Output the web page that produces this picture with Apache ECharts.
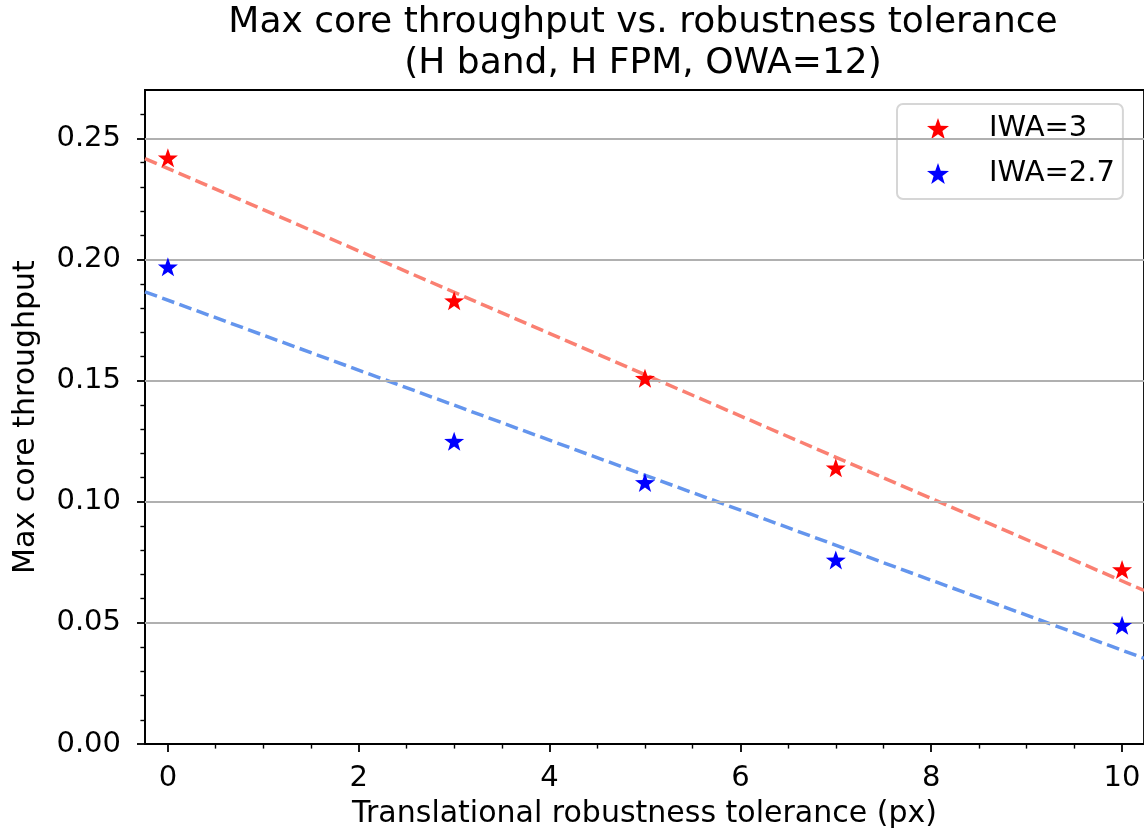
<!DOCTYPE html>
<html>
<head>
    <meta charset="utf-8">
    <title>Max core throughput</title>
    <script src="https://cdn.jsdelivr.net/npm/echarts@6/dist/echarts.min.js"></script>
    <style>
        html, body { margin: 0; padding: 0; background: #fff; }
    </style>
</head>
<body>
<div id="main" style="width: 1144px;height:835px;"></div>
<script type="text/javascript">
    // data
    var tolerance = [0, 3, 5, 7, 10];
    var iwa3 = [0.242, 0.183, 0.151, 0.114, 0.072];
    var iwa27 = [0.197, 0.125, 0.108, 0.076, 0.049];
    // dashed fit lines, end points at the axis limits
    var fitX = [-0.24, 10.23];
    var fitIwa3 = [0.2417, 0.0634];
    var fitIwa27 = [0.1867, 0.0354];

    var xMajor = [0, 2, 4, 6, 8, 10];
    var xMinor = [0.5, 1, 1.5, 2.5, 3, 3.5, 4.5, 5, 5.5, 6.5, 7, 7.5, 8.5, 9, 9.5];
    var yMajor = [0, 0.05, 0.10, 0.15, 0.20, 0.25];
    var yMinor = [0.01, 0.02, 0.03, 0.04, 0.06, 0.07, 0.08, 0.09, 0.11, 0.12, 0.13, 0.14,
                  0.16, 0.17, 0.18, 0.19, 0.21, 0.22, 0.23, 0.24, 0.26];

    var star = 'path://M0,-10 L2.35,-3.24 L9.51,-3.09 L3.8,1.24 L5.88,8.09 L0,4 L-5.88,8.09 L-3.8,1.24 L-9.51,-3.09 L-2.35,-3.24 Z';
    var font = 'DejaVu Sans';

    function pairs(xs, ys) {
        return xs.map(function (x, i) { return [x, ys[i]]; });
    }

    var myChart = echarts.init(document.getElementById('main'));

    var option = {
        animation: false,
        backgroundColor: '#fff',
        title: {
            text: 'Max core throughput vs. robustness tolerance\n(H band, H FPM, OWA=12)',
            left: 638,
            top: -3,
            textAlign: 'center',
            textStyle: { fontFamily: font, fontSize: 36, fontWeight: 'normal', color: '#000', lineHeight: 41 }
        },
        legend: {
            data: ['IWA=3', 'IWA=2.7'],
            orient: 'vertical',
            left: 897,
            top: 104,
            padding: [9, 8, 10, 30],
            itemWidth: 22,
            itemHeight: 22,
            itemGap: 14,
            borderColor: '#d6d6d6',
            borderWidth: 2,
            borderRadius: 6,
            backgroundColor: 'rgba(255,255,255,0.8)',
            textStyle: { fontFamily: font, fontSize: 29, color: '#000', lineHeight: 31, padding: [0, 0, 0, 35] }
        },
        // right edge of the axes box sits just past the picture edge
        grid: { left: 145, width: 1002, top: 90, bottom: 91, show: true, borderColor: '#000', borderWidth: 1.8 },
        xAxis: [{
            type: 'value',
            min: -0.24,
            max: 10.23,
            name: 'Translational robustness tolerance (px)',
            nameLocation: 'middle',
            nameGap: 55,
            nameTextStyle: { fontFamily: font, fontSize: 30, color: '#000' },
            axisLine: { show: true, onZero: false, lineStyle: { color: '#000', width: 1.8 } },
            axisTick: { show: true, customValues: xMajor, length: 8, lineStyle: { color: '#000', width: 1.8 } },
            axisLabel: { customValues: xMajor, margin: 20, fontFamily: font, fontSize: 29, color: '#000' },
            splitLine: { show: false }
        }, {
            type: 'value',
            position: 'bottom',
            min: -0.24,
            max: 10.23,
            axisLine: { show: false, onZero: false },
            axisTick: { show: true, customValues: xMinor, length: 4.6, lineStyle: { color: '#000', width: 1.4 } },
            axisLabel: { show: false },
            splitLine: { show: false }
        }],
        yAxis: [{
            type: 'value',
            min: 0,
            max: 0.27,
            name: 'Max core throughput',
            nameLocation: 'middle',
            nameGap: 104,
            nameTextStyle: { fontFamily: font, fontSize: 30, color: '#000' },
            axisLine: { show: true, onZero: false, lineStyle: { color: '#000', width: 1.8 } },
            axisTick: { show: true, customValues: yMajor, length: 8, lineStyle: { color: '#000', width: 1.8 } },
            axisLabel: {
                customValues: yMajor, margin: 24, fontFamily: font, fontSize: 29, color: '#000',
                formatter: function (v) { return v.toFixed(2); }
            },
            splitLine: { show: false }
        }, {
            type: 'value',
            position: 'left',
            min: 0,
            max: 0.27,
            axisLine: { show: false, onZero: false },
            axisTick: { show: true, customValues: yMinor, length: 4.6, lineStyle: { color: '#000', width: 1.4 } },
            axisLabel: { show: false },
            splitLine: { show: false }
        }],
        series: [
            // horizontal grid lines at the major y ticks
            {
                type: 'line',
                silent: true,
                data: [],
                markLine: {
                    silent: true,
                    symbol: 'none',
                    label: { show: false },
                    lineStyle: { color: '#b0b0b0', width: 2, type: 'solid' },
                    data: yMajor.slice(1).map(function (v) { return { yAxis: v }; })
                }
            },
            {
                name: 'fit IWA=3',
                type: 'line',
                data: pairs(fitX, fitIwa3),
                showSymbol: false,
                lineStyle: { color: '#FA8072', width: 3.5, type: [12.8, 5.5] },
                z: 3
            },
            {
                name: 'fit IWA=2.7',
                type: 'line',
                data: pairs(fitX, fitIwa27),
                showSymbol: false,
                lineStyle: { color: '#6495ED', width: 3.5, type: [12.8, 5.5] },
                z: 3
            },
            {
                name: 'IWA=3',
                type: 'scatter',
                data: pairs(tolerance, iwa3),
                symbol: star,
                symbolSize: [20, 19],
                itemStyle: { color: '#ff0000', opacity: 1 },
                z: 5
            },
            {
                name: 'IWA=2.7',
                type: 'scatter',
                data: pairs(tolerance, iwa27),
                symbol: star,
                symbolSize: [20, 19],
                itemStyle: { color: '#0000ff', opacity: 1 },
                z: 5
            }
        ]
    };
    myChart.setOption(option);
</script>
</body>
</html>
